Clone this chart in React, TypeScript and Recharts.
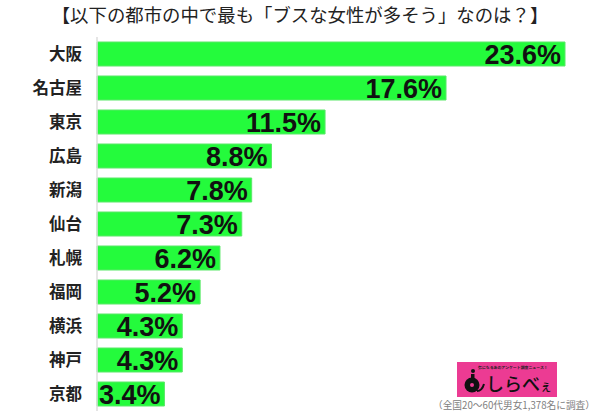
import { BarChart, Bar, XAxis, YAxis, LabelList } from 'recharts';

const cities = ['大阪', '名古屋', '東京', '広島', '新潟', '仙台', '札幌', '福岡', '横浜', '神戸', '京都'];
const shares = [23.6, 17.6, 11.5, 8.8, 7.8, 7.3, 6.2, 5.2, 4.3, 4.3, 3.4];

const data = cities.map((city, i) => ({ city, share: shares[i] }));

const jpFont = '"Noto Sans CJK JP", sans-serif';

export default function App() {
  return (
    <div style={{ position: 'absolute', left: 0, top: 0, width: 600, height: 413, background: '#fff', overflow: 'hidden' }}>
      <div style={{ position: 'absolute', left: 0, top: 1, width: 600, textAlign: 'center', fontFamily: jpFont, fontSize: 18.4, lineHeight: '26px', fontWeight: 400, color: '#222', whiteSpace: 'nowrap' }}>
        【以下の都市の中で最も「ブスな女性が多そう」なのは？】
      </div>
      <BarChart
        width={600}
        height={413}
        layout="vertical"
        data={data}
        margin={{ top: 37, right: 35, bottom: 2, left: 0 }}
      >
        <XAxis type="number" hide domain={[0, 23.6]} />
        <YAxis
          type="category"
          dataKey="city"
          width={97}
          axisLine={{ stroke: '#dcdcdc', strokeWidth: 1.5 }}
          tickLine={false}
          tickMargin={9}
          tick={{ fontFamily: jpFont, fontSize: 16.5, fontWeight: 700, fill: '#222' }}
        />
        <Bar dataKey="share" barSize={24} fill="#24fb3c" stroke="#5ae868" strokeWidth={1} isAnimationActive={false}>
          <LabelList
            dataKey="share"
            position="insideRight"
            offset={4}
            formatter={(v: number) => `${v.toFixed(1)}%`}
            style={{ fontFamily: '"Liberation Sans", Arial, sans-serif', fontSize: 27, fontWeight: 700, fill: '#111' }}
          />
        </Bar>
      </BarChart>
      <div style={{ position: 'absolute', left: 457, top: 362, width: 100, height: 35, background: '#ec3b93', overflow: 'hidden' }}>
        <div style={{ position: 'absolute', left: 21, top: 2, fontFamily: jpFont, fontSize: 3.9, lineHeight: '7px', fontWeight: 700, color: '#222', whiteSpace: 'nowrap' }}>
          気になるあのアンケート調査ニュース！
        </div>
        <svg width={100} height={35} style={{ position: 'absolute', left: 0, top: 0 }}>
          <circle cx={16} cy={9} r={2} fill="#111" />
          <circle cx={15} cy={23} r={7.5} fill="#111" />
          <rect x={14} y={12} width={3.5} height={10} fill="#111" />
          <path d="M20 29 Q25 29 27 22" fill="none" stroke="#111" strokeWidth={2} />
          <circle cx={15} cy={23} r={2} fill="#ec3b93" />
        </svg>
        <div style={{ position: 'absolute', left: 29, top: 12, fontFamily: jpFont, fontSize: 18, lineHeight: '18px', height: 18, fontWeight: 500, color: '#111', whiteSpace: 'nowrap' }}>
          しらべ<span style={{ fontSize: 12, lineHeight: '12px' }}>ぇ</span>
        </div>
      </div>
      <div style={{ position: 'absolute', left: 433, top: 398, fontFamily: jpFont, fontSize: 9.7, lineHeight: '14px', color: '#808080', whiteSpace: 'nowrap' }}>
        （全国20〜60代男女1,378名に調査）
      </div>
    </div>
  );
}
